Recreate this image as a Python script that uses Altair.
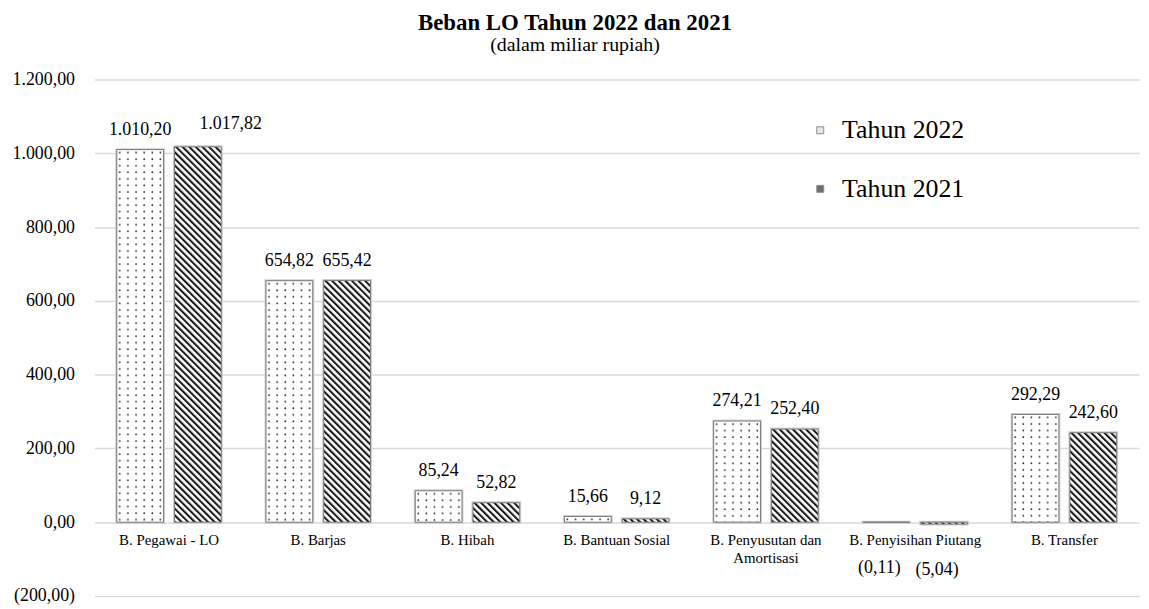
import altair as alt
import pandas as pd
from urllib.parse import quote

categories = ["B. Pegawai - LO", "B. Barjas", "B. Hibah", "B. Bantuan Sosial",
              "B. Penyusutan dan Amortisasi", "B. Penyisihan Piutang", "B. Transfer"]
series_names = ["Tahun 2022", "Tahun 2021"]
values_2022 = [1010.20, 654.82, 85.24, 15.66, 274.21, -0.11, 292.29]
values_2021 = [1017.82, 655.42, 52.82, 9.12, 252.40, -5.04, 242.60]
y_ticks = [-200, 0, 200, 400, 600, 800, 1000, 1200]

rows = []
for c, a, b in zip(categories, values_2022, values_2021):
    rows.append({"cat": c, "series": series_names[0], "value": a})
    rows.append({"cat": c, "series": series_names[1], "value": b})
df = pd.DataFrame(rows)

FONT = "Liberation Serif"

dots_svg = ("<svg xmlns='http://www.w3.org/2000/svg' width='100%' height='100%'>"
            "<defs><pattern id='d' width='8.2' height='6.6' patternUnits='userSpaceOnUse'>"
            "<rect width='8.2' height='6.6' fill='white'/>"
            "<circle cx='3' cy='3' r='0.9' fill='#222'/></pattern></defs>"
            "<rect width='100%' height='100%' fill='url(#d)'/></svg>")
stripe_svg = ("<svg xmlns='http://www.w3.org/2000/svg' width='100%' height='100%'>"
              "<defs><pattern id='s' width='4.7' height='10' patternUnits='userSpaceOnUse' "
              "patternTransform='rotate(-45)'>"
              "<rect width='4.7' height='10' fill='white'/>"
              "<rect width='2.1' height='10' fill='#1a1a1a'/></pattern></defs>"
              "<rect width='100%' height='100%' fill='url(#s)'/></svg>")
dots_url = "data:image/svg+xml;charset=utf-8," + quote(dots_svg)
stripe_url = "data:image/svg+xml;charset=utf-8," + quote(stripe_svg)

x_enc = alt.X("cat:N", sort=categories,
              scale=alt.Scale(paddingInner=0.3, paddingOuter=0.15),
              axis=alt.Axis(title=None, labelAngle=0, ticks=False, domain=False, grid=False,
                            offset=-74.5, labelPadding=11, labelFont=FONT, labelFontSize=15,
                            labelColor="#000", labelLineHeight=18, labelLimit=300,
                            labelExpr="datum.value == 'B. Penyusutan dan Amortisasi' ? ['B. Penyusutan dan', 'Amortisasi'] : datum.value"))
xo_enc = alt.XOffset("series:N", sort=series_names, scale=alt.Scale(paddingInner=0.19, paddingOuter=0))
y_enc = alt.Y("value:Q", scale=alt.Scale(domain=[-200, 1200], nice=False, zero=False),
              axis=alt.Axis(title=None, values=y_ticks, format="(,.2f", ticks=False, domain=False,
                            labelPadding=20, labelFont=FONT, labelFontSize=18, labelColor="#000",
                            gridColor="#d9d9d9", gridWidth=1.5))

base = alt.Chart(df)

bars = base.mark_bar(stroke="#cfcfcf", strokeWidth=3).encode(
    x=x_enc, xOffset=xo_enc, y=y_enc, y2=alt.datum(0),
    color=alt.Color("series:N", sort=series_names,
                    scale=alt.Scale(domain=series_names, range=["#e6e6e6", "#6e6e6e"]),
                    legend=alt.Legend(title=None, orient="none", legendX=718, legendY=38,
                                      symbolType="square", symbolSize=49, symbolStrokeWidth=1,
                                      symbolStrokeColor="#8a8a8a",
                                      labelFont=FONT, labelFontSize=26, labelColor="#000",
                                      rowPadding=33, labelOffset=9, padding=0)),
)

img22 = base.transform_filter(alt.datum.series == series_names[0]).mark_image(aspect=False).encode(
    x=x_enc, xOffset=xo_enc, y=y_enc, y2=alt.datum(0), url=alt.value(dots_url))
img21 = base.transform_filter(alt.datum.series == series_names[1]).mark_image(aspect=False).encode(
    x=x_enc, xOffset=xo_enc, y=y_enc, y2=alt.datum(0), url=alt.value(stripe_url))

outline = base.mark_bar(fillOpacity=0, stroke="#7a7a7a", strokeWidth=1).encode(
    x=x_enc, xOffset=xo_enc, y=y_enc, y2=alt.datum(0))

special = (alt.datum.cat == categories[0]) & (alt.datum.series == series_names[1])

txt_pos = base.transform_filter((alt.datum.value >= 0) & ~special).mark_text(
    font=FONT, fontSize=18, baseline="middle", dy=-20, color="#000").encode(
    x=x_enc, xOffset=xo_enc, y=y_enc, text=alt.Text("value:Q", format="(,.2f"))

txt_special = base.transform_filter(special).mark_text(
    font=FONT, fontSize=18, baseline="middle", dy=-23, dx=33, color="#000").encode(
    x=x_enc, xOffset=xo_enc, y=y_enc, text=alt.Text("value:Q", format="(,.2f"))

txt_neg = base.transform_filter(alt.datum.value < 0).mark_text(
    font=FONT, fontSize=18, baseline="middle", dy=46, dx=-7, color="#000").encode(
    x=x_enc, xOffset=xo_enc, y=y_enc, text=alt.Text("value:Q", format="(,.2f"))

chart = alt.layer(bars, img22, img21, outline, txt_pos, txt_special, txt_neg).properties(
    width=1052, height=520,
    padding={"left": 87, "top": 70, "right": 2, "bottom": 10},
    autosize=alt.AutoSizeParams(type="none"),
    title=alt.TitleParams(text="Beban LO Tahun 2022 dan 2021", subtitle="(dalam miliar rupiah)",
                          font=FONT, fontSize=23, fontWeight="bold", color="#000",
                          subtitleFont=FONT, subtitleFontSize=20, subtitleColor="#000",
                          subtitlePadding=0, anchor="middle", frame="group", dx=-42, offset=16),
).configure(
    locale={"number": {"decimal": ",", "thousands": ".", "grouping": [3], "currency": ["Rp", ""]}},
    background="white",
    view=alt.ViewConfig(stroke=None),
)

chart.save("out.html", embed_options={"renderer": "svg", "actions": False})
